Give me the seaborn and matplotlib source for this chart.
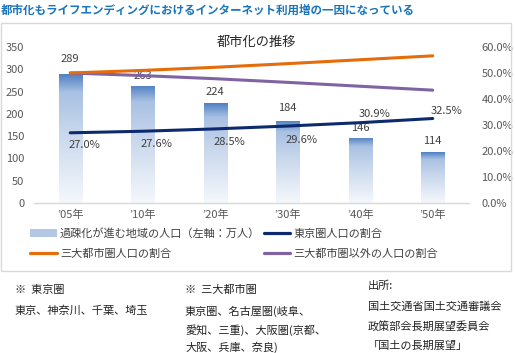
import numpy as np
import pandas as pd
import matplotlib
matplotlib.use("Agg")
import matplotlib.pyplot as plt
import seaborn as sns
from matplotlib.colors import LinearSegmentedColormap
from matplotlib.patches import Rectangle, Patch
from matplotlib.lines import Line2D

# ---- data ----
years = ["’05年", "’10年", "’20年", "’30年", "’40年", "’50年"]
depop_pop = [289, 263, 224, 184, 146, 114]          # 過疎化が進む地域の人口（万人）
tokyo_share = [27.0, 27.6, 28.5, 29.6, 30.9, 32.5]  # 東京圏人口の割合
three_share = [50.0, 51.0, 52.2, 53.6, 55.1, 56.6]  # 三大都市圏人口の割合
other_share = [50.0, 49.0, 47.8, 46.4, 44.9, 43.4]  # 三大都市圏以外の人口の割合
left_ticks = [0, 50, 100, 150, 200, 250, 300, 350]
right_ticks = [0, 10, 20, 30, 40, 50, 60]

header = "都市化もライフエンディングにおけるインターネット利用増の一因になっている"
chart_title = "都市化の推移"
legend_labels = ["過疎化が進む地域の人口（左軸：万人）", "三大都市圏人口の割合",
                 "東京圏人口の割合", "三大都市圏以外の人口の割合"]

sns.set_theme(style="white")
plt.rcParams["font.family"] = ["Noto Sans CJK JP", "DejaVu Sans"]

W, H = 515, 353
fig = plt.figure(figsize=(W / 100, H / 100), dpi=100)


def fx(px):
    return px / W


def fy(py):
    return 1 - py / H


ax = fig.add_axes([fx(34), fy(203), fx(469) - fx(34), fy(47) - fy(203)])

df = pd.DataFrame({"year": years, "depop": depop_pop, "tokyo": tokyo_share,
                   "three": three_share, "others": other_share})
df["pos"] = np.arange(len(df))

sns.barplot(data=df, x="year", y="depop", ax=ax, width=0.32,
            color="#8fb0da", saturation=1)

# gradient fill for bars
cmap = LinearSegmentedColormap.from_list(
    "g", [(0, "#f5f8fc"), (0.55, "#c8d7ec"), (0.86, "#a9c1e3"), (1, "#4f80c2")])
grad = np.linspace(0, 1, 256).reshape(-1, 1)
for p in list(ax.patches):
    x0, y0 = p.get_x(), p.get_y()
    w, h = p.get_width(), p.get_height()
    im = ax.imshow(grad, extent=[x0, x0 + w, y0, y0 + h], origin="lower",
                   aspect="auto", cmap=cmap, zorder=p.get_zorder())
    im.set_clip_path(p)
    p.set_facecolor("none")
    p.set_edgecolor("none")

ax.set_xlim(-0.5, 5.5)
ax.set_ylim(0, 350)
ax.set_yticks(left_ticks)
ax.set_xlabel("")
ax.set_ylabel("")
for s in ["left", "right", "top"]:
    ax.spines[s].set_visible(False)
ax.spines["bottom"].set_color("#d9d9d9")
ax.spines["bottom"].set_linewidth(1)
ax.tick_params(axis="y", length=0, pad=7, labelsize=8, labelcolor="#595959")
ax.tick_params(axis="x", length=0, pad=5, labelsize=8, labelcolor="#595959")

# bar labels
bar_offsets = [15, 10, 11, 13, 10, 11]
for i, v in enumerate(depop_pop):
    ax.annotate(f"{v}", (i, v), xytext=(0, bar_offsets[i]), textcoords="offset pixels",
                ha="center", va="center", fontsize=8, color="#404040")

ax2 = ax.twinx()
sns.lineplot(data=df, x="pos", y="others", ax=ax2, color="#8064a2", lw=2.2)
sns.lineplot(data=df, x="pos", y="three", ax=ax2, color="#e46c0a", lw=2.2)
sns.lineplot(data=df, x="pos", y="tokyo", ax=ax2, color="#0e2a6e", lw=2.2)
ax2.set_xlim(-0.5, 5.5)
ax2.set_ylim(0, 60)
ax2.set_yticks(right_ticks)
ax2.set_yticklabels([f"{v:.1f}%" for v in right_ticks])
ax2.set_xlabel("")
ax2.set_ylabel("")
for s in ax2.spines.values():
    s.set_visible(False)
ax2.tick_params(axis="y", length=0, pad=9, labelsize=8, labelcolor="#595959")

tok_dy = [-12.5, -12.5, -13, -13.5, 8.5, 7.5]
for i, v in enumerate(tokyo_share):
    ax2.annotate(f"{v:.1f}%", (i, v), xytext=(14, tok_dy[i]), textcoords="offset pixels",
                 ha="center", va="center", fontsize=8, color="#404040")

# legend
handles = [Patch(facecolor="#b4c8e6", edgecolor="none"),
           Line2D([], [], color="#e46c0a", lw=2.3),
           Line2D([], [], color="#0e2a6e", lw=2.3),
           Line2D([], [], color="#8064a2", lw=2.3)]
leg = fig.legend(handles, legend_labels, loc="upper left",
                 bbox_to_anchor=(fx(30), fy(228)), ncol=2, frameon=False,
                 fontsize=8, handlelength=2.4, handletextpad=0.3,
                 columnspacing=0.3, borderaxespad=0, borderpad=0,
                 labelspacing=0.85, handleheight=0.6)
for t in leg.get_texts():
    t.set_color("#404040")

# titles
fig.text(fx(1), fy(10), header, fontsize=8.3, fontweight="bold",
         color="#1a75bb", va="center", ha="left")
fig.text(fx(256), fy(42), chart_title, fontsize=9.5, color="#262626",
         ha="center", va="center")

# chart frame
fig.patches.append(Rectangle((fx(1), fy(271)), fx(511) - fx(1), fy(23) - fy(271),
                             transform=fig.transFigure, fill=False,
                             ec="#d9d9d9", lw=1))

# notes
note_kw = dict(fontsize=8, color="#222222", va="center", ha="left")
fig.text(fx(15), fy(290), "※  東京圏", **note_kw)
fig.text(fx(15), fy(311), "東京、神奈川、千葉、埼玉", **note_kw)
fig.text(fx(185), fy(290), "※  三大都市圏", **note_kw)
fig.text(fx(185), fy(311), "東京圏、名古屋圏(岐阜、", **note_kw)
fig.text(fx(185), fy(330), "愛知、三重)、大阪圏(京都、", **note_kw)
fig.text(fx(185), fy(347), "大阪、兵庫、奈良)", **note_kw)
fig.text(fx(368), fy(286), "出所:", **note_kw)
fig.text(fx(368), fy(307), "国土交通省国土交通審議会", **note_kw)
fig.text(fx(368), fy(327), "政策部会長期展望委員会", **note_kw)
fig.text(fx(368), fy(346), "「国土の長期展望」", **note_kw)

fig.savefig("out.png", dpi=100)
